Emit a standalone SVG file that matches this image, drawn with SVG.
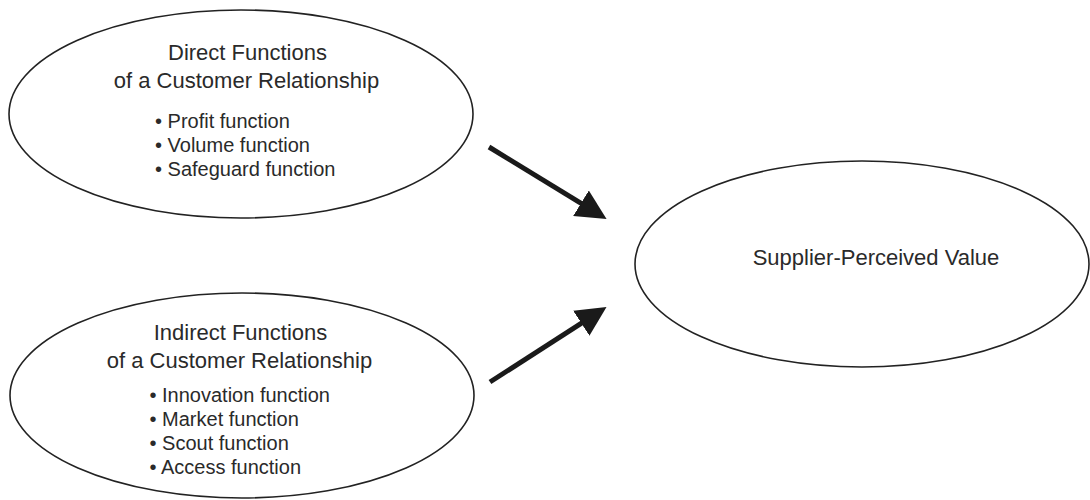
<svg xmlns="http://www.w3.org/2000/svg" width="1090" height="500" viewBox="0 0 1090 500">
<style>
.node ellipse{fill:#fff;stroke:#222;stroke-width:1.6}
.t{font-family:"Liberation Sans",Arial,Helvetica,sans-serif;fill:#2a2a2a}
.title{font-size:22px;text-anchor:middle}
.item{font-size:20px}
.conn{stroke:#1a1a1a;stroke-width:5;fill:none}
</style>
<defs>
<marker id="ah" markerUnits="userSpaceOnUse" markerWidth="30" markerHeight="30" viewBox="0 0 28 28" refX="2" refY="14" orient="auto">
<path d="M0,0 L28,14 L0,28 z" fill="#1a1a1a"/>
</marker>
</defs>
<rect width="1090" height="500" fill="#fff"/>
<g id="direct" class="node">
<ellipse cx="241" cy="114" rx="232" ry="104"/>
<text class="t title" x="247.5" y="60">Direct Functions</text>
<text class="t title" x="246.5" y="88">of a Customer Relationship</text>
<text class="t item" x="155" y="128">• Profit function</text>
<text class="t item" x="155" y="152">• Volume function</text>
<text class="t item" x="155" y="176">• Safeguard function</text>
</g>
<g id="indirect" class="node">
<ellipse cx="242" cy="395.5" rx="232" ry="102.5"/>
<text class="t title" x="240.5" y="340">Indirect Functions</text>
<text class="t title" x="239.5" y="368">of a Customer Relationship</text>
<text class="t item" x="149.5" y="402">• Innovation function</text>
<text class="t item" x="149.5" y="425.5">• Market function</text>
<text class="t item" x="149.5" y="449.5">• Scout function</text>
<text class="t item" x="149.5" y="473.5">• Access function</text>
</g>
<g id="value" class="node">
<ellipse cx="862" cy="264" rx="227" ry="103"/>
<text class="t title" x="876" y="265">Supplier-Perceived Value</text>
</g>
<g id="connectors">
<line class="conn" x1="489" y1="147" x2="582.8" y2="204.4" marker-end="url(#ah)"/>
<line class="conn" x1="490" y1="382" x2="583.1" y2="322.1" marker-end="url(#ah)"/>
</g>
</svg>
